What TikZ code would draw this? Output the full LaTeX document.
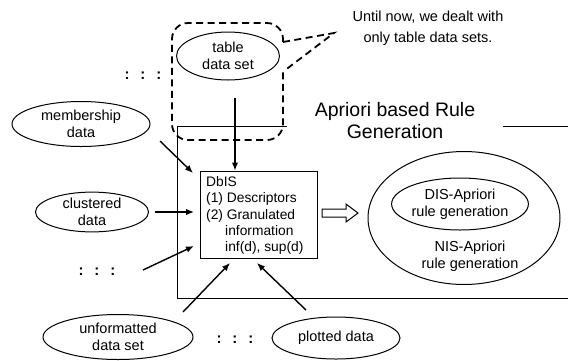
\documentclass[tikz,border=0pt]{standalone}
\usepackage{fontspec}
\setmainfont{Liberation Sans}
\usetikzlibrary{arrows.meta,shapes.geometric}
\begin{document}
\begin{tikzpicture}[x=1pt,y=-1pt,
  txt/.style={font=\fontsize{14.5}{17.5}\selectfont, align=center, inner sep=0pt},
  oval/.style={draw, line width=1pt, ellipse, inner sep=0pt, font=\fontsize{14.5}{17.5}\selectfont, align=center},
  arr/.style={line width=1.4pt, -{Latex[length=8pt,width=6.5pt]}},
  dsh/.style={line width=1.8pt, dash pattern=on 7pt off 4.5pt},
  dots/.style={font=\fontsize{15}{17}\selectfont\bfseries, inner sep=0pt}]
\useasboundingbox (0,0) rectangle (568,360);

% big frame
\draw[line width=1pt] (287,126) -- (177,126) -- (177,298) -- (568,298);
\draw[line width=1pt] (503,126) -- (568,126);
\node[font=\fontsize{19.5}{22}\selectfont, align=center, inner sep=0pt] (title) at (395,121) {Apriori based Rule\\Generation};

% table data set
\node[oval, minimum width=103pt, minimum height=48pt] (tbl) at (228,56) {table\\data set};
\draw[dsh, rounded corners=16pt] (283,42) -- (283,23) -- (172,23) -- (172,140) -- (283,140) -- (283,71);
\coordinate (tip) at (334,33);
\draw[dsh] (283,42) -- (tip) -- (284,71);
\node[font=\fontsize{14.5}{21.5}\selectfont, align=center, inner sep=0pt] (note) at (428,28) {Until now, we dealt with\\only table data sets.};
\node[dots] (d1) at (143,76) {:\hspace{11pt}:\hspace{11pt}:};

% DbIS box
\node[draw, line width=1pt, minimum width=117pt, minimum height=87pt, inner sep=0pt] (dbis) at (258.5,214.5) {};
\node[font=\fontsize{13.8}{16.2}\selectfont, align=left, anchor=north west, inner sep=0pt] (dbistxt) at (206,176.5)
  {DbIS\\(1) Descriptors\\(2) Granulated\\\hspace{19pt}information\\\hspace{19pt}inf(d), sup(d)};

% left inputs
\node[oval, minimum width=138pt, minimum height=45pt] (mem) at (81,124) {membership\\data};
\node[oval, minimum width=113pt, minimum height=37pt] (clu) at (92,212) {clustered\\data};
\node[dots] (d2) at (97,272) {:\hspace{11pt}:\hspace{11pt}:};
\node[oval, minimum width=150pt, minimum height=45pt] (unf) at (118,337) {unformatted\\data set};
\node[dots] (d3) at (235,340) {:\hspace{11pt}:\hspace{11pt}:};
\node[oval, minimum width=128pt, minimum height=42pt] (plt) at (336,338) {plotted data};

% arrow coordinates
\coordinate (a1s) at (235,98);
\coordinate (a2s) at (160,141);
\coordinate (a2e) at (193,173);
\coordinate (a3s) at (155,212);
\coordinate (a3e) at (194,212);
\coordinate (a4s) at (143,270);
\coordinate (a4e) at (194,246);
\coordinate (a5s) at (183,312);
\coordinate (a5e) at (230,263);
\coordinate (a6s) at (306,310);
\coordinate (a6e) at (257,263);

\draw[arr] (a1s) -- (a1s |- dbis.north);
\draw[arr] (a2s) -- (a2e);
\draw[arr] (a3s) -- (a3e);
\draw[arr] (a4s) -- (a4e);
\draw[arr] (a5s) -- (a5e);
\draw[arr] (a6s) -- (a6e);

% right side
\node[oval, minimum width=192pt, minimum height=133pt] (nis) at (464,218) {};
\node[oval, minimum width=123pt, minimum height=52pt] (dis) at (460,204) {DIS-Apriori\\rule generation};
\node[txt] (nistxt) at (470,256) {NIS-Apriori\\rule generation};

% hollow arrow
\draw[line width=1pt] (322,209) -- (346,209) -- (346,204) -- (358,213) -- (346,222) -- (346,217) -- (322,217) -- cycle;
\end{tikzpicture}
\end{document}
